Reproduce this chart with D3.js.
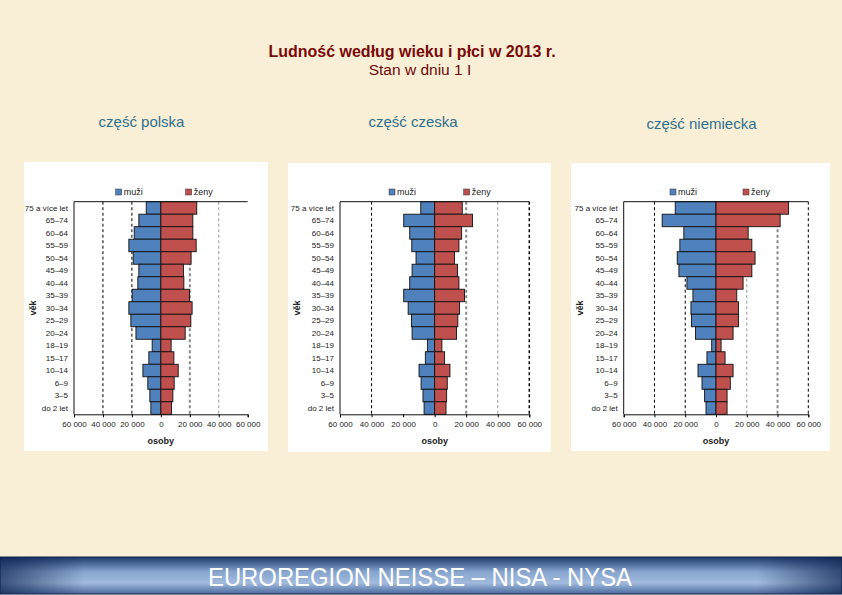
<!DOCTYPE html>
<html><head><meta charset="utf-8">
<script src="https://cdn.jsdelivr.net/npm/d3@7/dist/d3.min.js"></script>
<style>
html,body{margin:0;padding:0;background:#f9efd6;}
svg{display:block;}
</style></head>
<body>
<svg id="c" width="842" height="595"></svg>
<script>
// ---------- DATA ----------
const ageGroups = ["75 a více let","65–74","60–64","55–59","50–54","45–49","40–44","35–39","30–34","25–29","20–24","18–19","15–17","10–14","6–9","3–5","do 2 let"];
const malePL   = [10100,15200,18400,22100,19100,15200,15900,19800,22100,20700,17200,6000,8300,12400,9000,7600,6900];
const femalePL = [24800,22100,22100,24400,20900,15600,15900,19800,21600,20700,16800,7100,9000,12000,9200,8300,7400];
const maleCZ   = [8800,19600,15800,14500,11800,14300,15800,19600,16800,14700,14300,4600,5900,9900,8600,7400,6700];
const femaleCZ = [17500,24000,17100,15400,12600,14500,15400,18900,15800,14700,13900,4600,6300,9700,8000,7600,7200];
const maleDE   = [26500,35000,20900,23500,25200,24100,18900,15000,16300,15900,13300,2800,5900,11700,9100,7400,6500];
const femaleDE = [47200,41700,20900,23300,25400,23300,17600,13500,14600,14600,11100,3300,5900,11100,9300,7200,7200];
const xTicks = [-60000,-40000,-20000,0,20000,40000,60000];
const panelTitles = ["część polska","część czeska","część niemiecka"];
const legendLabels = ["muži","ženy"];
const axisTitleX = "osoby";
const axisTitleY = "věk";
const mainTitle = "Ludność według wieku i płci w 2013 r.";
const subTitle = "Stan w dniu 1 I";
const footerText = "EUROREGION NEISSE – NISA - NYSA";

// ---------- LAYOUT ----------
const panels = [
  {male: malePL, female: femalePL, title: panelTitles[0], tx:141.5, ty:127,
   box:[24,162,268,451], px:[74,247.7], leg:[115.7,185.7], grid:[[-40000,"#000",1],[-20000,"#000",1],[20000,"#888",2],[40000,"#999",1]]},
  {male: maleCZ, female: femaleCZ, title: panelTitles[1], tx:413, ty:127,
   box:[288,163,551,452], px:[340,529.3], leg:[389,463.7], grid:[[-40000,"#000",1],[20000,"#888",2],[40000,"#999",1],[60000,"#000",1.5]]},
  {male: maleDE, female: femaleDE, title: panelTitles[2], tx:701.5, ty:129,
   box:[571,163,830,451], px:[623.7,808.3], leg:[670,743], grid:[[-40000,"#000",1],[-20000,"#000",1],[20000,"#999",1],[40000,"#888",2],[60000,"#000",1]]}
];
const plotTop = 201.7, plotBottom = 414.3;
const blue = "#4f81bd", red = "#c0504d";
const fmt = d3.formatLocale({decimal:",", thousands:"\u00a0", grouping:[3], currency:["",""]}).format(",d");

const svg = d3.select("#c");
const defs = svg.append("defs");
const g1 = defs.append("linearGradient").attr("id","ban").attr("x1",0).attr("y1",0).attr("x2",0).attr("y2",1);
g1.append("stop").attr("offset","0%").attr("stop-color","#1d3a6b");
g1.append("stop").attr("offset","40%").attr("stop-color","#86a4cd");
g1.append("stop").attr("offset","70%").attr("stop-color","#a2bbde");
g1.append("stop").attr("offset","100%").attr("stop-color","#4a6a9e");
const g2 = defs.append("linearGradient").attr("id","banh").attr("x1",0).attr("y1",0).attr("x2",1).attr("y2",0);
g2.append("stop").attr("offset","0%").attr("stop-color","#0c2350").attr("stop-opacity",0.7);
g2.append("stop").attr("offset","10%").attr("stop-color","#0c2350").attr("stop-opacity",0);
g2.append("stop").attr("offset","90%").attr("stop-color","#0c2350").attr("stop-opacity",0);
g2.append("stop").attr("offset","100%").attr("stop-color","#0c2350").attr("stop-opacity",0.7);

svg.append("rect").attr("width",842).attr("height",595).attr("fill","#f9efd6");

// titles
svg.append("text").attr("x",412).attr("y",57).attr("text-anchor","middle")
  .attr("font-family","Liberation Sans, Arial, sans-serif").attr("font-size",16).attr("font-weight","bold")
  .attr("fill","#7a0a0a").text(mainTitle);
svg.append("text").attr("x",420).attr("y",75).attr("text-anchor","middle")
  .attr("font-family","Liberation Sans, Arial, sans-serif").attr("font-size",15.5)
  .attr("fill","#6e0a0a").text(subTitle);

panels.forEach(p => {
  const [bx0,by0,bx1,by1] = p.box;
  const g = svg.append("g");
  g.append("text").attr("x",p.tx).attr("y",p.ty).attr("text-anchor","middle")
    .attr("font-family","Liberation Sans, Arial, sans-serif").attr("font-size",15)
    .attr("fill","#2f6f8f").text(p.title);
  g.append("rect").attr("x",bx0).attr("y",by0).attr("width",bx1-bx0).attr("height",by1-by0)
    .attr("fill","#ffffff");

  const x = d3.scaleLinear().domain([-60000,60000]).range(p.px);
  const y = d3.scaleBand().domain(ageGroups).range([plotTop,plotBottom]).padding(0);

  // grid lines
  p.grid.forEach(([v,col,w]) => {
    g.append("line").attr("x1",x(v)).attr("x2",x(v)).attr("y1",plotTop).attr("y2",plotBottom)
      .attr("stroke",col).attr("stroke-width",w).attr("stroke-dasharray","3,2.5");
  });

  // bars
  g.selectAll("rect.m").data(ageGroups).join("rect").attr("class","m")
    .attr("x",(d,i)=>x(-p.male[i])).attr("width",(d,i)=>x(0)-x(-p.male[i]))
    .attr("y",d=>y(d)).attr("height",y.bandwidth())
    .attr("fill",blue).attr("stroke","#111").attr("stroke-width",0.9);
  g.selectAll("rect.f").data(ageGroups).join("rect").attr("class","f")
    .attr("x",x(0)).attr("width",(d,i)=>x(p.female[i])-x(0))
    .attr("y",d=>y(d)).attr("height",y.bandwidth())
    .attr("fill",red).attr("stroke","#111").attr("stroke-width",0.9);

  // frame lines
  g.append("line").attr("x1",x(-60000)).attr("x2",x(60000)).attr("y1",plotTop).attr("y2",plotTop).attr("stroke","#111").attr("stroke-width",1);
  g.append("line").attr("x1",x(-60000)).attr("x2",x(-60000)).attr("y1",plotTop).attr("y2",plotBottom).attr("stroke","#111").attr("stroke-width",1);

  // x axis
  const xa = g.append("g").attr("transform",`translate(0,${plotBottom})`)
    .call(d3.axisBottom(x).tickValues(xTicks).tickSize(3).tickFormat(d=>fmt(Math.abs(d))));
  xa.select(".domain").attr("stroke","#111");
  xa.selectAll("text").attr("font-family","Liberation Sans, Arial, sans-serif").attr("font-size",8).attr("fill","#222").attr("dy","0.9em");

  // y axis labels
  const ya = g.append("g").attr("transform",`translate(${x(-60000)},0)`)
    .call(d3.axisLeft(y).tickSize(0).tickPadding(6));
  ya.select(".domain").remove();
  ya.selectAll("text").attr("font-family","Liberation Sans, Arial, sans-serif").attr("font-size",8).attr("fill","#222");

  // axis titles
  g.append("text").attr("x",x(0)).attr("y",plotBottom+30).attr("text-anchor","middle")
    .attr("font-family","Liberation Sans, Arial, sans-serif").attr("font-size",9).attr("font-weight","bold").attr("fill","#222").text(axisTitleX);
  g.append("text").attr("transform",`translate(${bx0+12},${(plotTop+plotBottom)/2}) rotate(-90)`).attr("text-anchor","middle")
    .attr("font-family","Liberation Sans, Arial, sans-serif").attr("font-size",9).attr("font-weight","bold").attr("fill","#222").text(axisTitleY);

  // legend
  [[blue,legendLabels[0]],[red,legendLabels[1]]].forEach(([c,t],k)=>{
    const lx = p.leg[k];
    g.append("rect").attr("x",lx).attr("y",189).attr("width",6).attr("height",6).attr("fill",c).attr("stroke","#333").attr("stroke-width",0.5);
    g.append("text").attr("x",lx+8).attr("y",195).attr("font-family","Liberation Sans, Arial, sans-serif")
      .attr("font-size",9).attr("fill","#222").text(t);
  });
});

// footer banner
svg.append("rect").attr("x",0).attr("y",557).attr("width",842).attr("height",37).attr("fill","url(#ban)").attr("stroke","#0f2346").attr("stroke-width",1);
svg.append("rect").attr("x",0).attr("y",557).attr("width",842).attr("height",37).attr("fill","url(#banh)");
svg.append("text").attr("x",420).attr("y",586).attr("text-anchor","middle")
  .attr("font-family","Liberation Sans Narrow, Arial Narrow, Liberation Sans, sans-serif").attr("font-size",25)
  .attr("fill","#ffffff").attr("textLength",424).attr("lengthAdjust","spacingAndGlyphs").text(footerText);
</script>
</body></html>
